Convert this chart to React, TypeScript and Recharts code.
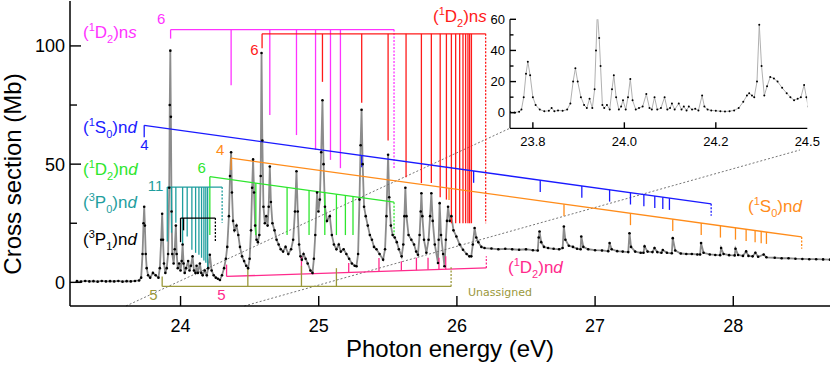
import {
  ComposedChart,
  Line,
  XAxis,
  YAxis,
  ReferenceLine,
  ReferenceDot,
} from 'recharts'

const FONT = '"Liberation Sans", Arial, Helvetica, sans-serif'

// ── spectrum (photon energy eV, cross section Mb) ───────────────────────────
type Pt = [number, number]

const thresholdRegion: Pt[] = [
  [23.25, 0.5], [23.28, 0.3], [23.31, 0.6], [23.34, 0.4], [23.37, 0.5], [23.4, 0.3], [23.43, 0.6],
  [23.46, 0.4], [23.49, 0.5], [23.52, 0.4], [23.55, 0.6], [23.58, 0.3], [23.61, 0.5], [23.64, 0.4],
  [23.67, 0.6], [23.7, 0.8], [23.715, 2], [23.725, 12], [23.732, 25], [23.737, 32], [23.742, 24],
  [23.748, 12], [23.755, 6], [23.765, 3], [23.78, 2], [23.8, 4], [23.82, 3], [23.84, 2], [23.85, 6],
  [23.86, 18], [23.867, 29], [23.873, 18], [23.88, 8], [23.89, 4], [23.9, 6], [23.91, 12],
  [23.918, 40], [23.922, 75], [23.926, 98], [23.93, 70], [23.935, 30], [23.94, 12], [23.95, 8],
  [23.958, 14], [23.966, 24], [23.972, 12], [23.98, 6], [23.99, 8], [24.0, 5], [24.008, 9],
  [24.015, 16], [24.022, 8], [24.03, 4], [24.04, 6], [24.055, 9], [24.065, 5], [24.075, 7],
  [24.087, 11], [24.097, 5], [24.108, 4], [24.116, 7], [24.125, 4], [24.14, 8], [24.15, 4],
  [24.16, 3], [24.175, 5], [24.19, 3], [24.2, 6], [24.212, 11.7], [24.225, 5], [24.24, 3],
  [24.255, 2], [24.27, 1.5], [24.285, 1], [24.3, 3],
]

const lowerBand: Pt[] = [
  [24.315, 6], [24.328, 10], [24.338, 15], [24.35, 28], [24.358, 45], [24.366, 55], [24.372, 38],
  [24.38, 26], [24.39, 22], [24.405, 24], [24.418, 20], [24.43, 15], [24.445, 11], [24.46, 9],
  [24.475, 7], [24.489, 6], [24.5, 10], [24.51, 22], [24.518, 40], [24.525, 52], [24.532, 38],
  [24.54, 24], [24.55, 18], [24.56, 17], [24.57, 20], [24.58, 45], [24.586, 97], [24.592, 60],
  [24.6, 32], [24.61, 25], [24.62, 28], [24.63, 24], [24.638, 32], [24.646, 49], [24.654, 34],
  [24.665, 25], [24.68, 22], [24.695, 18], [24.71, 16], [24.725, 14], [24.742, 13], [24.76, 15],
  [24.78, 12], [24.8, 14], [24.815, 18], [24.828, 30], [24.839, 47], [24.848, 30], [24.858, 16],
  [24.868, 11], [24.878, 9.6], [24.89, 12], [24.905, 10], [24.92, 8], [24.94, 5], [24.955, 4],
  [24.965, 10], [24.975, 20], [24.988, 38], [24.998, 30], [25.008, 35], [25.018, 55], [25.027, 77],
  [25.035, 50], [25.045, 32], [25.06, 26], [25.08, 28], [25.095, 20], [25.11, 16], [25.128, 14],
  [25.145, 16], [25.16, 13], [25.18, 14], [25.2, 12], [25.22, 10], [25.24, 8], [25.26, 7],
  [25.273, 6.8],
]

const upperBand: Pt[] = [
  [25.285, 12], [25.295, 35], [25.303, 58], [25.31, 73], [25.318, 50], [25.328, 32], [25.34, 28],
  [25.355, 24], [25.37, 20], [25.385, 18], [25.4, 15], [25.418, 14], [25.44, 12], [25.466, 9.6],
  [25.48, 14], [25.49, 28], [25.502, 54], [25.51, 36], [25.522, 24], [25.535, 20], [25.55, 19],
  [25.565, 17], [25.58, 14], [25.6, 11], [25.612, 16], [25.62, 28], [25.627, 40], [25.635, 28],
  [25.65, 20], [25.67, 18], [25.69, 16], [25.705, 13], [25.718, 11.7], [25.73, 20], [25.738, 30],
  [25.743, 37.7], [25.75, 28], [25.762, 18], [25.779, 12.5], [25.795, 18], [25.806, 28],
  [25.815, 37.7], [25.825, 26], [25.84, 16], [25.863, 8.2], [25.868, 18], [25.875, 33.5],
  [25.885, 20], [25.9, 12], [25.91, 6.8], [25.92, 18], [25.928, 26], [25.936, 32], [25.948, 26],
  [25.96, 28], [25.975, 22], [25.996, 19.4], [26.02, 16], [26.044, 13.8], [26.07, 12], [26.09, 11],
  [26.104, 11], [26.115, 16], [26.128, 23], [26.14, 19], [26.155, 17], [26.177, 15], [26.2, 14.5],
]

const continuum: Pt[] = [
  [26.25, 14.3], [26.3, 14], [26.35, 14.2], [26.4, 14], [26.45, 13.8], [26.5, 14], [26.55, 13.6],
  [26.585, 13.5], [26.592, 19], [26.598, 21.5], [26.61, 17], [26.63, 15], [26.66, 14.5],
  [26.7, 14.2], [26.74, 14], [26.765, 14.5], [26.774, 23.6], [26.785, 18], [26.81, 15.5],
  [26.84, 15], [26.87, 14.2], [26.895, 14], [26.9, 19.4], [26.915, 15], [26.95, 14], [27.0, 13.6],
  [27.05, 13.5], [27.095, 13.2], [27.105, 16.6], [27.12, 14], [27.16, 13.2], [27.2, 13],
  [27.24, 12.8], [27.249, 20.8], [27.26, 15], [27.29, 13], [27.33, 12.5], [27.35, 12.5],
  [27.358, 15.2], [27.38, 13], [27.415, 12.8], [27.43, 14.5], [27.45, 12.8], [27.48, 12.5],
  [27.49, 13.7], [27.52, 12.5], [27.555, 12.3], [27.562, 18.7], [27.58, 13.5], [27.62, 12.2],
  [27.66, 12], [27.7, 12], [27.74, 11.8], [27.76, 11.8], [27.767, 16.6], [27.785, 12.5],
  [27.83, 11.8], [27.87, 11.6], [27.905, 11.5], [27.912, 14.5], [27.93, 12], [27.97, 11.5],
  [28.01, 11.4], [28.016, 14.2], [28.035, 11.6], [28.07, 11.2], [28.093, 13.1], [28.11, 11.2],
  [28.14, 11], [28.16, 12.5], [28.18, 10.8], [28.22, 11.8], [28.24, 10.6], [28.3, 10.4],
  [28.35, 10.2], [28.4, 10.2], [28.45, 10], [28.5, 9.9], [28.55, 9.8], [28.6, 9.8], [28.65, 9.7],
  [28.7, 9.6],
]

// zoomed inset, 23.75 – 24.4 eV
const insetSpectrum: Pt[] = [
  [23.75, 0.5], [23.76, 0.2], [23.77, 0.6], [23.775, 2], [23.78, 10], [23.785, 25], [23.789, 32.8],
  [23.794, 24], [23.8, 10], [23.806, 5], [23.815, 2], [23.825, 1], [23.835, 1.2], [23.841, 3],
  [23.847, 1], [23.855, 1.5], [23.865, 1.2], [23.875, 2], [23.882, 6], [23.888, 20], [23.893, 28.6],
  [23.898, 20], [23.905, 10], [23.912, 5], [23.918, 3], [23.924, 9], [23.93, 3], [23.935, 15],
  [23.938, 40], [23.941, 65], [23.945, 48], [23.948, 30], [23.952, 5], [23.956, 3], [23.962, 5],
  [23.968, 2], [23.973, 15], [23.977, 24], [23.982, 10], [23.988, 2], [23.993, 4], [23.997, 8],
  [24.003, 2], [24.008, 10], [24.013, 21.7], [24.018, 8], [24.025, 2], [24.032, 3], [24.04, 4],
  [24.048, 12], [24.055, 3], [24.06, 2], [24.066, 10], [24.072, 2], [24.08, 3], [24.088, 10],
  [24.094, 2], [24.1, 3], [24.104, 6], [24.11, 2], [24.119, 6], [24.125, 2], [24.13, 4],
  [24.136, 1.5], [24.141, 4], [24.148, 2], [24.155, 2.5], [24.162, 1.5], [24.17, 11], [24.175, 4],
  [24.182, 2], [24.19, 1.5], [24.2, 1.2], [24.21, 1], [24.22, 0.8], [24.23, 1], [24.24, 1.5],
  [24.25, 3], [24.26, 7], [24.268, 11], [24.273, 12.5], [24.279, 11], [24.284, 10], [24.29, 20],
  [24.295, 56.5], [24.3, 30], [24.306, 11], [24.312, 17], [24.319, 23], [24.327, 22], [24.335, 20],
  [24.345, 16], [24.355, 12.5], [24.363, 10], [24.371, 8], [24.379, 9], [24.386, 10],
  [24.393, 17.8], [24.398, 10], [24.402, 4],
]

// ── Rydberg series assignments: line energies and where each marker ends ────
const d2nsMagentaE = [23.928, 24.366, 24.646, 24.839, 24.977, 25.085, 25.157, 25.545]
const d2nsMagentaEnd = [103.1, 83.4, 70.8, 62.3, 56, 51.8, 48.3, 48.3]

const d2nsRedE = [
  24.59, 25.027, 25.311, 25.502, 25.632, 25.743, 25.815, 25.879, 25.924,
  25.96, 25.991, 26.02, 26.044, 26.063, 26.08, 26.092, 26.105, 26.208,
]
const d2nsRedEnd = [99, 84.8, 76, 60, 44.5, 42, 42, 36, 35, 25, 25, 25, 25, 25, 25, 25, 25, 25]

const s0ndBlueE = [23.737, 25.311, 26.121, 26.603, 26.904, 27.105, 27.256, 27.353, 27.432, 27.49, 27.538, 27.84]
const s0ndOrangeE = [24.366, 25.943, 26.775, 27.256, 27.562, 27.768, 27.907, 28.016, 28.093, 28.158, 28.202, 28.24, 28.495]

const d2ndGreenE = [24.212, 24.545, 24.771, 24.93, 25.044, 25.128, 25.193, 25.248, 25.545]
const d2ndGreenEnd = [20, 20, 20, 20, 20, 20, 20, 20, 20]

const p0ndE = [23.904, 23.935, 23.966, 24.015, 24.048, 24.082, 24.109, 24.133, 24.152, 24.169, 24.183, 24.196, 24.301]
const p0ndEnd = [17.3, 21, 25.2, 15.9, 19.4, 13.8, 12.5, 11.7, 10.4, 9.2, 8.3, 6.2, 25.2]

const p1ndE = [24.0, 24.022, 24.252]
const p1ndEnd = [17, 22, 17]

const d2ndPinkE = [24.333, 24.875, 25.217, 25.436, 25.598, 25.707, 25.791, 25.87, 25.919, 26.213]
const d2ndPinkEnd = [7.5, 11, 8.2, 10.3, 8.9, 10.4, 10.4, 10.4, 11, 11]

const unassignedE = [23.867, 24.487, 24.875, 25.128, 25.958]
const unassignedEnd = [2.5, 6, 7, 6, 6.4]

// ── axes ────────────────────────────────────────────────────────────────────
const xTicks = [24, 25, 26, 27, 28]
const yTicks = [0, 25, 50, 75, 100]
const insetXTicks = [23.8, 24.0, 24.2, 24.4]
const insetXTickLabels = ['23.8', '24.0', '24.2', '24.5']
const insetYTicks = [0, 10, 20, 30, 40, 50, 60]

const MAGENTA = '#ff33ff'
const RED = '#ff1a1a'
const BLUE = '#1a1aff'
const ORANGE = '#ff8c1a'
const GREEN = '#2ee62e'
const TEAL = '#1f9e9e'
const PINK = '#ff2a8c'
const OLIVE = '#9a983a'

interface Comb {
  color: string
  bar: [number, number, number, number]
  lines: number[]
  ends?: number[]
  drop?: number
}

const combs: Comb[] = [
  { color: MAGENTA, bar: [23.928, 106.9, 25.545, 106.9], lines: d2nsMagentaE, ends: d2nsMagentaEnd },
  { color: RED, bar: [24.59, 105.1, 26.208, 105.1], lines: d2nsRedE, ends: d2nsRedEnd },
  { color: BLUE, bar: [23.737, 66.4, 27.84, 33.2], lines: s0ndBlueE, drop: 5 },
  { color: ORANGE, bar: [24.366, 52.5, 28.495, 19.2], lines: s0ndOrangeE, drop: 5 },
  { color: GREEN, bar: [24.212, 44.7, 25.545, 33.9], lines: d2ndGreenE, ends: d2ndGreenEnd },
  { color: TEAL, bar: [23.904, 40.3, 24.301, 40.3], lines: p0ndE, ends: p0ndEnd },
  { color: '#000', bar: [24.0, 27.2, 24.252, 27.2], lines: p1ndE, ends: p1ndEnd },
  { color: PINK, bar: [24.333, 2.5, 26.213, 6.1], lines: d2ndPinkE, ends: d2ndPinkEnd },
  { color: OLIVE, bar: [23.867, -1.7, 25.958, -1.7], lines: unassignedE, ends: unassignedEnd },
]

const termLabels = [
  { color: MAGENTA, mult: '1', letter: 'D', j: '2', orb: 's', e: 23.294, v: 103.4 },
  { color: BLUE, mult: '1', letter: 'S', j: '0', orb: 'd', e: 23.294, v: 63.2 },
  { color: GREEN, mult: '1', letter: 'D', j: '2', orb: 'd', e: 23.294, v: 45.4 },
  { color: TEAL, mult: '3', letter: 'P', j: '0', orb: 'd', e: 23.294, v: 31.5 },
  { color: '#000', mult: '3', letter: 'P', j: '1', orb: 'd', e: 23.294, v: 15.8 },
  { color: RED, mult: '1', letter: 'D', j: '2', orb: 's', e: 25.827, v: 110.1 },
  { color: ORANGE, mult: '1', letter: 'S', j: '0', orb: 'd', e: 28.107, v: 29.7 },
  { color: PINK, mult: '1', letter: 'D', j: '2', orb: 'd', e: 26.37, v: 4.0 },
]

const startLabels = [
  { text: '6', color: MAGENTA, e: 23.859, v: 109.3 },
  { text: '6', color: RED, e: 24.535, v: 96.1 },
  { text: '4', color: BLUE, e: 23.739, v: 56.0 },
  { text: '4', color: ORANGE, e: 24.286, v: 53.9 },
  { text: '6', color: GREEN, e: 24.152, v: 46.4 },
  { text: '11', color: TEAL, e: 23.819, v: 38.6 },
  { text: '5', color: OLIVE, e: 23.804, v: -7.5 },
  { text: '5', color: PINK, e: 24.296, v: -7.5 },
]

// dotted guides from the main axis to the inset corners
const zoomGuides = [
  [{ x: 23.605, y: -10 }, { x: 26.384, y: 65.2 }],
  [{ x: 24.461, y: -10 }, { x: 28.483, y: 56 }],
]

const spectrum = [...thresholdRegion, ...lowerBand, ...upperBand, ...continuum].map(([e, v]) => ({ e, v }))
const insetData = insetSpectrum.map(([e, v]) => ({ e, v }))

const AXIS = { stroke: '#000', strokeWidth: 1.5 }

function barValue(c: Comb, e: number) {
  const [e0, v0, e1, v1] = c.bar
  return v0 + ((v1 - v0) * (e - e0)) / (e1 - e0)
}

function Term({ x, y, color, mult, letter, j, orb }: any) {
  const size = 17
  const small = 11
  return (
    <text x={x} y={y} fill={color} fontSize={size} fontFamily={FONT}>
      (<tspan fontSize={small} dy={-7}>{mult}</tspan>
      <tspan dy={7}>{letter}</tspan>
      <tspan fontSize={small} dy={5}>{j}</tspan>
      <tspan dy={-5}>)n</tspan>
      <tspan fontStyle="italic">{orb}</tspan>
    </text>
  )
}

// ticks point into the plot, labels sit outside
const bottomTick = (len: (v: number) => number, size: number, gap: number, fmt: (v: number) => string | null) =>
  (p: any) => {
    const label = fmt(p.payload.value)
    return (
      <g>
        <line x1={p.x} x2={p.x} y1={p.y} y2={p.y - len(p.payload.value)} stroke="#000" strokeWidth={1.4} />
        {label !== null && (
          <text x={p.x} y={p.y + gap} textAnchor="middle" fontSize={size} fontFamily={FONT} fill="#000">
            {label}
          </text>
        )}
      </g>
    )
  }

const topTick = (len: (v: number) => number) => (p: any) => (
  <line x1={p.x} x2={p.x} y1={p.y} y2={p.y + len(p.payload.value)} stroke="#000" strokeWidth={1.4} />
)

const leftTick = (len: (v: number) => number, size: number, shift: number, fmt: (v: number) => string | null) =>
  (p: any) => {
    const label = fmt(p.payload.value)
    return (
      <g>
        <line x1={p.x} x2={p.x + len(p.payload.value)} y1={p.y} y2={p.y} stroke="#000" strokeWidth={1.4} />
        {label !== null && (
          <text x={p.x - 5} y={p.y + shift} textAnchor="end" fontSize={size} fontFamily={FONT} fill="#000">
            {label}
          </text>
        )}
      </g>
    )
  }

const rightTick = (len: (v: number) => number) => (p: any) => (
  <line x1={p.x} x2={p.x - len(p.payload.value)} y1={p.y} y2={p.y} stroke="#000" strokeWidth={1.4} />
)

const mainYLen = (v: number) => (v % 50 === 0 ? 11 : 7)
const insetYLen = (v: number) => (v % 20 === 0 ? 6 : 3.5)
const insetXLen = (v: number) => (v > 24.3 ? 0 : 6)

export default function App() {
  return (
    <div style={{ position: 'relative', width: 831, height: 371, background: '#fff' }}>
      <style>{'body{margin:0}'}</style>
      <div style={{ position: 'absolute', left: 0, top: 0 }}>
        <ComposedChart width={831} height={371} data={spectrum} margin={{ top: 1, right: 1, bottom: 0, left: 0 }}>
          <XAxis
            dataKey="e"
            type="number"
            domain={[23.2, 28.7]}
            ticks={xTicks}
            interval={0}
            height={65}
            tickSize={0}
            tickMargin={0}
            tickLine={false}
            axisLine={AXIS}
            allowDataOverflow
            tick={bottomTick(() => 10, 18, 26, (v) => String(v))}
            label={{
              content: () => (
                <text x={450} y={357} textAnchor="middle" fontSize={24} fontFamily={FONT} fill="#000">
                  Photon energy (eV)
                </text>
              ),
            }}
          />
          <XAxis
            xAxisId="top"
            orientation="top"
            dataKey="e"
            type="number"
            domain={[23.2, 28.7]}
            ticks={xTicks}
            interval={0}
            height={0}
            tickSize={0}
            tickMargin={0}
            tickLine={false}
            axisLine={AXIS}
            allowDataOverflow
            tick={topTick(() => 10)}
          />
          <YAxis
            type="number"
            domain={[-10, 119]}
            ticks={yTicks}
            interval={0}
            width={70}
            tickSize={0}
            tickMargin={0}
            tickLine={false}
            axisLine={AXIS}
            allowDataOverflow
            tick={leftTick(mainYLen, 18, 6.5, (v) => (v % 50 === 0 ? String(v) : null))}
            label={{
              content: () => (
                <text
                  x={21}
                  y={174}
                  transform="rotate(-90 21 174)"
                  textAnchor="middle"
                  fontSize={24}
                  fontFamily={FONT}
                  fill="#000"
                >
                  Cross section (Mb)
                </text>
              ),
            }}
          />
          <YAxis
            yAxisId="right"
            orientation="right"
            type="number"
            domain={[-10, 119]}
            ticks={yTicks}
            interval={0}
            width={0}
            tickSize={0}
            tickMargin={0}
            tickLine={false}
            axisLine={AXIS}
            allowDataOverflow
            tick={rightTick(mainYLen)}
          />

          <Line
            dataKey="v"
            stroke="#8c8c8c"
            strokeWidth={1.8}
            dot={{ r: 1.3, fill: '#000', stroke: '#000', strokeWidth: 0 }}
            isAnimationActive={false}
          />

          {zoomGuides.map((seg, i) => (
            <ReferenceLine
              key={`guide${i}`}
              segment={seg}
              stroke="#666"
              strokeWidth={0.9}
              strokeDasharray="2 2"
              ifOverflow="visible"
            />
          ))}

          {combs.flatMap((c, ci) => [
            <ReferenceLine
              key={`bar${ci}`}
              segment={[{ x: c.bar[0], y: c.bar[1] }, { x: c.bar[2], y: c.bar[3] }]}
              stroke={c.color}
              strokeWidth={1.3}
              ifOverflow="visible"
            />,
            ...c.lines.map((e, i) => {
              const top = barValue(c, e)
              const end = c.ends ? c.ends[i] : top - (c.drop ?? 5)
              const last = i === c.lines.length - 1
              return (
                <ReferenceLine
                  key={`tick${ci}-${i}`}
                  segment={[{ x: e, y: top }, { x: e, y: end }]}
                  stroke={c.color}
                  strokeWidth={1.3}
                  strokeDasharray={last ? '2 1.5' : undefined}
                  ifOverflow="visible"
                />
              )
            }),
          ])}

          {termLabels.map((t, i) => (
            <ReferenceDot
              key={`term${i}`}
              x={t.e}
              y={t.v}
              r={0}
              ifOverflow="visible"
              shape={(p: any) => <Term x={p.cx} y={p.cy} {...t} />}
            />
          ))}

          {startLabels.map((s, i) => (
            <ReferenceDot
              key={`start${i}`}
              x={s.e}
              y={s.v}
              r={0}
              ifOverflow="visible"
              shape={(p: any) => (
                <text x={p.cx} y={p.cy} textAnchor="middle" fill={s.color} fontSize={15} fontFamily={FONT}>
                  {s.text}
                </text>
              )}
            />
          ))}

          <ReferenceDot
            x={26.08}
            y={-5.8}
            r={0}
            ifOverflow="visible"
            shape={(p: any) => (
              <text x={p.cx} y={p.cy} fill={OLIVE} fontSize={11} fontFamily='"DejaVu Sans", sans-serif'>
                Unassigned
              </text>
            )}
          />
        </ComposedChart>
      </div>

      <div style={{ position: 'absolute', left: 480, top: 0 }}>
        <ComposedChart
          width={340}
          height={150}
          data={insetData}
          margin={{ top: 19.3, right: 12.7, bottom: 0, left: 0 }}
        >
          <XAxis
            dataKey="e"
            type="number"
            domain={[23.75, 24.4]}
            ticks={insetXTicks}
            interval={0}
            height={21.7}
            tickSize={0}
            tickMargin={0}
            tickLine={false}
            axisLine={{ stroke: '#000', strokeWidth: 1.2 }}
            allowDataOverflow
            tick={bottomTick(insetXLen, 13, 18, (v) => insetXTickLabels[insetXTicks.indexOf(v)] ?? null)}
          />
          <XAxis
            xAxisId="top"
            orientation="top"
            dataKey="e"
            type="number"
            domain={[23.75, 24.4]}
            ticks={insetXTicks}
            interval={0}
            height={0}
            tickSize={0}
            tickMargin={0}
            tickLine={false}
            axisLine={{ stroke: '#000', strokeWidth: 1.2 }}
            allowDataOverflow
            tick={topTick(insetXLen)}
          />
          <YAxis
            type="number"
            domain={[-10, 60]}
            ticks={insetYTicks}
            interval={0}
            width={30}
            tickSize={0}
            tickMargin={0}
            tickLine={false}
            axisLine={{ stroke: '#000', strokeWidth: 1.2 }}
            allowDataOverflow
            tick={leftTick(insetYLen, 13, 4.5, (v) => (v % 20 === 0 ? String(v) : null))}
          />
          <YAxis
            yAxisId="right"
            orientation="right"
            type="number"
            domain={[-10, 60]}
            ticks={insetYTicks}
            interval={0}
            width={0}
            tickSize={0}
            tickMargin={0}
            tickLine={false}
            axisLine={{ stroke: '#000', strokeWidth: 1.2 }}
            allowDataOverflow
            tick={rightTick(insetYLen)}
          />
          <Line
            dataKey="v"
            stroke="#b0b0b0"
            strokeWidth={1}
            dot={{ r: 1, fill: '#000', stroke: '#000', strokeWidth: 0 }}
            isAnimationActive={false}
          />
        </ComposedChart>
      </div>
    </div>
  )
}
